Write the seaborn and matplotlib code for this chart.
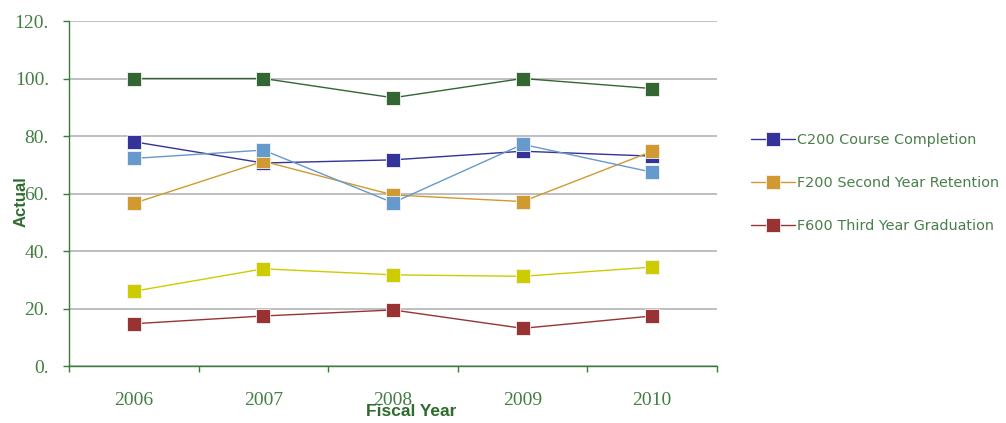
import matplotlib
matplotlib.use("Agg")
import matplotlib.pyplot as plt
import matplotlib.ticker as mticker
import pandas as pd
import seaborn as sns

# Fiscal years on the category axis
years = ["2006", "2007", "2008", "2009", "2010"]

# Measures (percent)
c200_course_completion = [78.0, 70.6, 71.7, 74.7, 73.0]
f200_second_year_retention = [56.6, 71.2, 59.5, 57.2, 74.7]
f600_third_year_graduation = [14.7, 17.4, 19.5, 13.1, 17.4]
series_4 = [100.0, 100.0, 93.3, 100.0, 96.5]
series_5 = [72.2, 75.1, 56.8, 77.1, 67.4]
series_6 = [26.0, 33.8, 31.7, 31.2, 34.4]

series_names = [
    "C200 Course Completion",
    "F200 Second Year Retention",
    "F600 Third Year Graduation",
    "Series 4",
    "Series 5",
    "Series 6",
]
series_values = [
    c200_course_completion,
    f200_second_year_retention,
    f600_third_year_graduation,
    series_4,
    series_5,
    series_6,
]
legend_count = 3

colors = ["#333399", "#D09A30", "#993333", "#336633", "#6699CC", "#CCCC00"]

yticks = [0, 20, 40, 60, 80, 100, 120]

rows = []
for name, vals in zip(series_names, series_values):
    for yr, v in zip(years, vals):
        rows.append({"Fiscal Year": yr, "Actual": v, "Measure": name})
df = pd.DataFrame(rows)

sns.set_theme(style="white")
plt.rcParams["font.family"] = ["DejaVu Sans"]

green_text = "#437E43"
green_axis = "#3C7A3C"
green_label = "#2E6B2E"

fig = plt.figure(figsize=(10.06, 4.23), dpi=100)
ax = fig.add_axes([69 / 1006, 1 - 366 / 423, 648 / 1006, 345 / 423])

sns.lineplot(
    data=df, x="Fiscal Year", y="Actual", hue="Measure",
    hue_order=series_names, palette=colors,
    marker="s", markersize=10.5, markeredgecolor="#F4F4F4",
    markeredgewidth=0.6, linewidth=1.0, ax=ax, legend=True,
    sort=False, zorder=3,
)

ax.set_xlim(-0.5, len(years) - 0.5)
ax.set_ylim(yticks[0], yticks[-1])
ax.set_yticks(yticks)
ax.yaxis.set_major_formatter(mticker.FuncFormatter(lambda v, p: f"{v:.0f}."))
ax.set_xticks(range(len(years)))
ax.set_xticklabels(years)
ax.set_xticks([i - 0.5 for i in range(len(years) + 1)], minor=True)

ax.grid(axis="y", color="#B4B4B4", linewidth=1.2, zorder=0)
ax.grid(axis="x", visible=False)
for side in ("top", "right"):
    ax.spines[side].set_visible(False)
for side in ("left", "bottom"):
    ax.spines[side].set_color(green_axis)
    ax.spines[side].set_linewidth(1.0)

ax.tick_params(axis="y", which="major", left=True, length=4, width=1.0,
               color=green_axis, pad=10.5, labelsize=14, labelcolor=green_text)
ax.tick_params(axis="x", which="major", bottom=False, length=0, pad=19,
               labelsize=14, labelcolor=green_text)
ax.tick_params(axis="x", which="minor", bottom=True, length=4, width=1.0,
               color=green_axis)
for lab in ax.get_yticklabels() + ax.get_xticklabels():
    lab.set_family("Liberation Serif")

ax.set_xlabel("Fiscal Year", fontsize=12.5, fontweight="bold",
              color=green_label, family="Liberation Sans", va="top")
ax.xaxis.set_label_coords((411 - 69) / 648, (366 - 404) / 345)
ax.set_ylabel("Actual", fontsize=12, fontweight="bold",
              color=green_label, family="Liberation Sans", va="center")
ax.yaxis.set_label_coords((21 - 69) / 648, (366 - 202) / 345)

handles, labels = ax.get_legend_handles_labels()
ax.get_legend().remove()
leg = fig.legend(
    handles[:legend_count], labels[:legend_count],
    loc="center left", bbox_to_anchor=(744 / 1006, 1 - 183 / 423),
    frameon=False, fontsize=10.4, handlelength=3.0, handletextpad=0.2,
    labelspacing=2.0, borderpad=0, markerscale=0.9,
)
for t in leg.get_texts():
    t.set_color("#4A7F4A")

fig.savefig("out.png", dpi=100)
